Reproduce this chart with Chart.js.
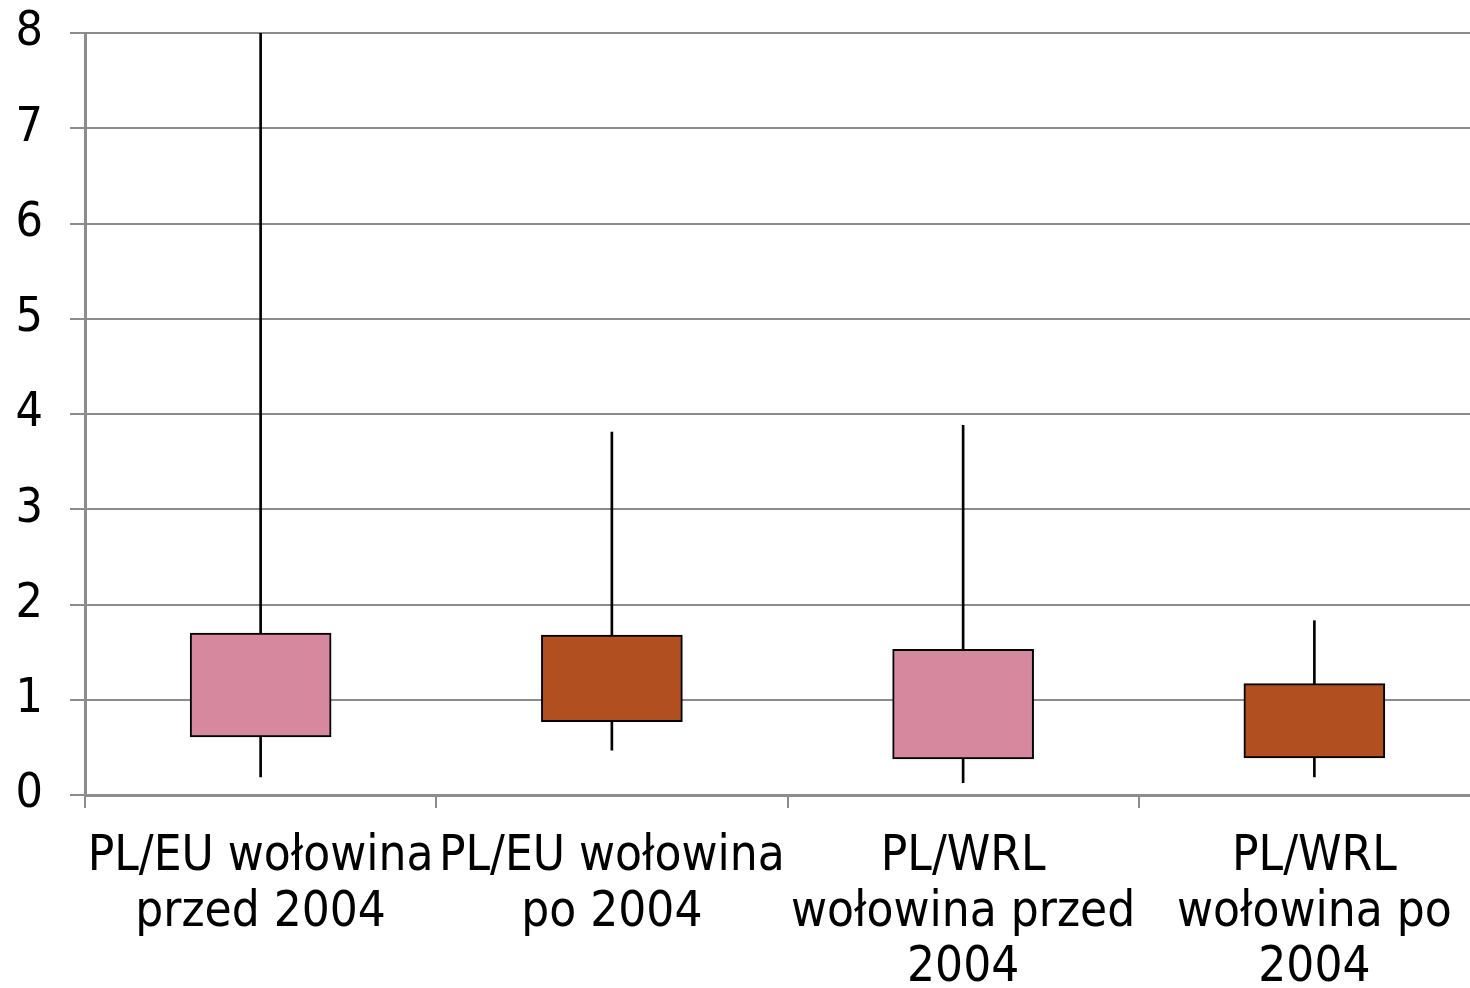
<!DOCTYPE html>
<html lang="pl">
<head>
<meta charset="utf-8">
<title>Wołowina PL/EU i PL/WRL</title>
<script src="https://cdn.jsdelivr.net/npm/chart.js@4/dist/chart.umd.min.js"></script>
<style>
  html, body { margin: 0; padding: 0; background: #fff; overflow: hidden; }
  #wrap { width: 1490px; height: 988px; }
</style>
</head>
<body>
<div id="wrap"><canvas id="wykres"></canvas></div>
<script>
// kategorie (etykiety osi X, w kilku liniach)
const kategorie = [
  ['PL/EU wołowina', 'przed 2004'],
  ['PL/EU wołowina', 'po 2004'],
  ['PL/WRL', 'wołowina przed', '2004'],
  ['PL/WRL', 'wołowina po', '2004']
];
// wąsy: minimum i maksimum
const minimum = [0.19, 0.47, 0.13, 0.19];
const maksimum = [8.0, 3.81, 3.88, 1.83];
// pudełka: dolna i górna granica
const dolna = [0.61, 0.77, 0.38, 0.39];
const gorna = [1.70, 1.68, 1.53, 1.17];
const kolory = ['#D6889F', '#B14F20', '#D6889F', '#B14F20'];
const osY = { min: 0, max: 8, krok: 1 };

const czcionka = "'DejaVu Sans Condensed', 'Liberation Sans Narrow', 'DejaVu Sans', sans-serif";
const szary = '#8c8c8c';

const ctx = document.getElementById('wykres').getContext('2d');
new Chart(ctx, {
  type: 'bar',
  data: {
    labels: kategorie,
    datasets: [
      {
        label: 'pudełko',
        data: dolna.map((d, i) => [d, gorna[i]]),
        backgroundColor: kolory,
        borderColor: '#000',
        borderWidth: 2,
        borderSkipped: false,
        barThickness: 141,
        grouped: false,
        order: 0
      },
      {
        label: 'zakres',
        data: minimum.map((m, i) => [m, maksimum[i]]),
        backgroundColor: '#000',
        borderWidth: 0,
        barThickness: 2,
        grouped: false,
        order: 1
      }
    ]
  },
  options: {
    responsive: true,
    maintainAspectRatio: false,
    animation: false,
    layout: { padding: { top: 33, right: 0, left: 0, bottom: 0 } },
    plugins: {
      legend: { display: false },
      tooltip: { enabled: false }
    },
    scales: {
      x: {
        offset: true,
        grid: {
          offset: true,
          drawOnChartArea: false,
          drawTicks: true,
          tickLength: 13,
          color: szary,
          lineWidth: 2
        },
        border: { display: true, color: szary, width: 3 },
        ticks: {
          color: '#000',
          maxRotation: 0,
          autoSkip: false,
          padding: 21,
          font: { family: czcionka, size: 49, lineHeight: 1.14 }
        },
        afterFit: function(scale) {
          scale.height = 193;
          scale.paddingLeft = 0;
          scale.paddingRight = 0;
        }
      },
      y: {
        min: osY.min,
        max: osY.max,
        grid: {
          color: szary,
          lineWidth: 2,
          tickLength: 15
        },
        border: { display: true, color: szary, width: 3 },
        ticks: {
          stepSize: osY.krok,
          color: '#000',
          padding: 27,
          font: { family: czcionka, size: 48 }
        },
        afterFit: function(scale) {
          scale.width = 85;
          scale.paddingTop = 0;
          scale.paddingBottom = 0;
        }
      }
    }
  }
});
</script>
</body>
</html>
